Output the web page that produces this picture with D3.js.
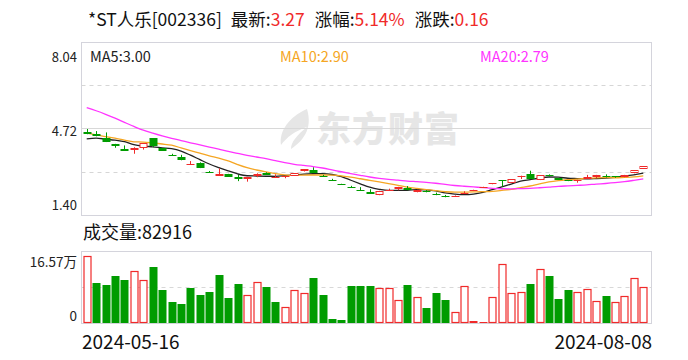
<!DOCTYPE html>
<html><head><meta charset="utf-8">
<script src="https://cdn.jsdelivr.net/npm/d3@7/dist/d3.min.js"></script>
<style>body{margin:0;background:#fff}svg{display:block}</style>
</head><body><svg id="c" width="688" height="360"></svg>
<script>
const dates = ["2024-05-16","2024-05-17","2024-05-20","2024-05-21","2024-05-22","2024-05-23","2024-05-24","2024-05-27","2024-05-28","2024-05-29","2024-05-30","2024-05-31",
"2024-06-03","2024-06-04","2024-06-05","2024-06-06","2024-06-07","2024-06-11","2024-06-12","2024-06-13","2024-06-14","2024-06-17","2024-06-18","2024-06-19","2024-06-20","2024-06-21","2024-06-24","2024-06-25","2024-06-26","2024-06-27","2024-06-28",
"2024-07-01","2024-07-02","2024-07-03","2024-07-04","2024-07-05","2024-07-08","2024-07-09","2024-07-10","2024-07-11","2024-07-12","2024-07-15","2024-07-16","2024-07-17","2024-07-18","2024-07-19","2024-07-22","2024-07-23","2024-07-24","2024-07-25","2024-07-26","2024-07-29","2024-07-30","2024-07-31",
"2024-08-01","2024-08-02","2024-08-05","2024-08-06","2024-08-07","2024-08-08"];
const open  = [4.59,4.50,4.37,4.12,3.93,3.88,3.96,4.34,3.96,3.70, 3.63,3.33,3.41,3.06,2.91,2.97,2.86,2.77,2.90,3.01, 2.82,2.84,2.90,3.09,3.13,2.89,2.74,2.60,2.48,2.37, 2.29,2.16,2.32,2.39,2.45,2.27,2.31,2.19,2.12,2.10, 2.22,2.35,2.48,2.58,2.73,2.62,2.88,2.97,2.74,2.92, 2.81,2.73,2.72,2.78,2.86,2.91,2.88,2.85,3.00,3.17];
const high  = [4.70,4.62,4.57,4.13,4.07,4.00,4.16,4.35,3.97,3.75, 3.71,3.47,3.42,3.09,3.19,2.98,2.94,2.86,3.00,3.04, 2.96,2.90,3.01,3.15,3.23,2.94,2.79,2.60,2.52,2.47, 2.39,2.33,2.41,2.48,2.51,2.37,2.36,2.26,2.17,2.15, 2.31,2.37,2.49,2.61,2.74,2.78,2.91,3.10,2.92,2.96, 2.82,2.74,2.75,2.94,2.94,2.96,2.89,2.94,3.11,3.27];
const low   = [4.50,4.42,4.20,3.98,3.86,3.75,3.91,4.00,3.86,3.68, 3.50,3.33,3.20,3.04,2.91,2.87,2.70,2.68,2.85,2.95, 2.82,2.81,2.90,3.07,3.02,2.87,2.73,2.59,2.46,2.34, 2.22,2.16,2.32,2.35,2.35,2.27,2.27,2.16,2.08,2.09, 2.22,2.35,2.48,2.58,2.49,2.62,2.78,2.80,2.74,2.88, 2.75,2.70,2.64,2.78,2.82,2.84,2.83,2.85,3.00,3.17];
const close = [4.52,4.42,4.20,4.06,3.86,3.96,4.15,4.06,3.87,3.68, 3.50,3.37,3.20,3.04,2.99,2.87,2.78,2.85,2.99,2.95, 2.86,2.89,3.00,3.15,3.02,2.87,2.73,2.59,2.46,2.34, 2.22,2.32,2.37,2.47,2.35,2.37,2.27,2.16,2.08,2.14, 2.26,2.37,2.49,2.61,2.69,2.78,2.91,2.80,2.92,2.88, 2.75,2.70,2.74,2.86,2.94,2.84,2.86,2.94,3.11,3.27];
// closes of the 19 sessions before the window (estimated from the moving-average lines)
const prevCloses = [6.8,6.9,7.0,7.1,7.1,7.0,6.3,6.0,5.6,5.2, 5.10,4.80,4.70,4.62,4.58, 4.27,4.40,4.26,4.15];
// volume in 万手
const volume = [15.35,9.20,8.74,10.81,9.89,11.90,9.83,12.89,7.59,4.83, 4.37,8.05,6.44,7.13,11.04,5.75,8.97,6.37,9.37,8.28, 4.83,3.68,7.52,6.83,10.35,6.44,0.92,0.69,8.51,8.51, 8.51,7.98,7.98,5.22,8.74,5.91,3.45,6.90,5.29,2.46, 8.44,0.39,0.23,5.91,13.51,6.83,7.06,8.97,12.36,10.81, 5.52,7.59,7.06,7.82,4.99,6.21,4.76,6.14,10.29,8.2916];
const priceTicks = [1.40, 4.72, 8.04];
const priceGrid = [3.06, 4.72, 6.38];
const volTicks = [0, 16.57];
const maPeriods = [5, 10, 20];
const maLegend = ["3.00", "2.90", "2.79"];
const titleParts = [["*ST人乐[002336]", 0], ["最新:", 0], ["3.27", 1], ["涨幅:", 0], ["5.14%", 1], ["涨跌:", 0], ["0.16", 1]];
const volumeTitle = "成交量:82916";

const RED = "#f02a2a", GREEN = "#009c00";
const maColors = ["#222222", "#f5a623", "#ff33ff"];
const FONT = "'Noto Sans CJK SC', 'Noto Sans', sans-serif";

const svg = d3.select("#c");
const L = 81.5, R = 651.5, PT = 42.5, PB = 215.5, VT = 251.5, VB = 323.5;

const x = d3.scaleBand().domain(d3.range(dates.length)).range([82, 648]).paddingInner(0.26).paddingOuter(0.13);
const cx = i => x(i) + x.bandwidth() / 2;
const y = d3.scaleLinear().domain([1.40, 8.04]).range([215, 42]);
const yv = d3.scaleLinear().domain([0, 16.57]).range([323, 251]);

// title
const t = svg.append("text").attr("x", 88).attr("y", 26).attr("font-family", FONT).attr("font-size", 17.5);
const gaps = [0, 9, 0, 10, 0, 10, 0];
titleParts.forEach((p, i) => t.append("tspan").attr("dx", gaps[i]).attr("fill", p[1] ? RED : "#111").text(p[0]));

// watermark
const wm = svg.append("g").attr("fill", "#e6e6e6");
wm.append("path").attr("transform", "translate(277,109)")
  .attr("d", "M30 0 C12 8 2 22 4 36 C10 28 18 22 30 18 C20 26 14 33 14 40 C26 32 36 20 30 0 Z");
wm.append("text").attr("x", 316).attr("y", 142).attr("font-family", FONT).attr("font-weight", 900)
  .attr("font-size", 35).attr("letter-spacing", 1).text("东方财富");

// price frame & grid
svg.append("rect").attr("x", L).attr("y", PT).attr("width", R - L).attr("height", PB - PT).attr("fill", "none").attr("stroke", "#d4d4dc");
svg.selectAll(".pg").data(priceGrid).join("line")
  .attr("x1", L).attr("x2", R).attr("y1", d => Math.round(y(d)) + 0.5).attr("y2", d => Math.round(y(d)) + 0.5)
  .attr("stroke", (d, i) => i === 1 ? "#d8d8d8" : "#d6d6d6").attr("stroke-dasharray", (d, i) => i === 1 ? null : "4,4");

// price axis labels
const pLabY = [210, 136, 62];
svg.selectAll(".pl").data(priceTicks).join("text").attr("x", 77).attr("y", (d, i) => pLabY[i])
  .attr("text-anchor", "end").attr("font-family", FONT).attr("font-size", 13).attr("fill", "#222").text(d => d.toFixed(2));

// MA lines
const all = prevCloses.concat(close);
const off = prevCloses.length;
maPeriods.forEach((n, k) => {
  const ma = close.map((_, i) => d3.mean(all.slice(off + i - n + 1, off + i + 1)));
  svg.append("path").datum(ma).attr("fill", "none").attr("stroke", maColors[k]).attr("stroke-width", 1.3)
    .attr("d", d3.line().x((d, i) => cx(i)).y(d => y(d)).curve(d3.curveMonotoneX));
});

// candles
const cg = svg.append("g");
close.forEach((c, i) => {
  const o = open[i], up = c > o || (c === o && c >= (i ? close[i - 1] : prevCloses[off - 1]));
  const col = up ? RED : GREEN;
  const xc = Math.round(cx(i)) + 0.5;
  cg.append("line").attr("x1", xc).attr("x2", xc).attr("y1", y(high[i])).attr("y2", y(low[i])).attr("stroke", col);
  const top = Math.round(y(Math.max(o, c))), bot = Math.round(y(Math.min(o, c)));
  const h = Math.max(1, bot - top);
  if (up && h > 2) {
    cg.append("rect").attr("x", xc - 3.5).attr("y", top + 0.5).attr("width", 7).attr("height", h - 1)
      .attr("fill", "#fff").attr("stroke", col);
  } else {
    cg.append("rect").attr("x", xc - 4).attr("y", top).attr("width", 8).attr("height", h).attr("fill", col);
  }
});

// MA legend
const legX = [90, 280, 480];
maPeriods.forEach((n, k) => svg.append("text").attr("x", legX[k]).attr("y", 62).attr("font-family", FONT)
  .attr("font-size", 14.5).attr("fill", k === 0 ? "#222" : maColors[k]).text("MA" + n + ":" + maLegend[k]));

// volume
svg.append("text").attr("x", 83).attr("y", 239).attr("font-family", FONT).attr("font-size", 18).attr("fill", "#111").text(volumeTitle);
svg.append("rect").attr("x", L).attr("y", VT).attr("width", R - L).attr("height", VB - VT).attr("fill", "none").attr("stroke", "#d4d4dc");
svg.append("line").attr("x1", L).attr("x2", R).attr("y1", Math.round(yv(volTicks[1] / 2)) + 0.5).attr("y2", Math.round(yv(volTicks[1] / 2)) + 0.5)
  .attr("stroke", "#d8d8d8").attr("stroke-dasharray", "4,4");
const vLabY = [321, 267];
svg.selectAll(".vl").data(volTicks).join("text").attr("x", 77).attr("y", (d, i) => vLabY[i])
  .attr("text-anchor", "end").attr("font-family", FONT).attr("font-size", 13.5).attr("fill", "#222")
  .text(d => d === 0 ? "0" : d.toFixed(2) + "万");
const vg = svg.append("g");
volume.forEach((v, i) => {
  const pc = i ? close[i - 1] : prevCloses[off - 1];
  const up = close[i] >= pc, col = up ? RED : GREEN;
  const xc = Math.round(cx(i)) + 0.5;
  const top = Math.round(yv(v)), h = Math.max(1, 323 - top);
  if (up && h > 2) {
    vg.append("rect").attr("x", xc - 3.5).attr("y", top + 0.5).attr("width", 7).attr("height", h - 1).attr("fill", "#fff").attr("stroke", col).attr("stroke-width", 1.2);
  } else {
    vg.append("rect").attr("x", xc - 4).attr("y", top).attr("width", 8).attr("height", h).attr("fill", col);
  }
});

// date labels
svg.append("text").attr("x", 82).attr("y", 349).attr("font-family", FONT).attr("font-size", 19).attr("fill", "#111").text(dates[0]);
svg.append("text").attr("x", 652).attr("y", 349).attr("text-anchor", "end").attr("font-family", FONT).attr("font-size", 19).attr("fill", "#111").text(dates[dates.length - 1]);
</script></body></html>
